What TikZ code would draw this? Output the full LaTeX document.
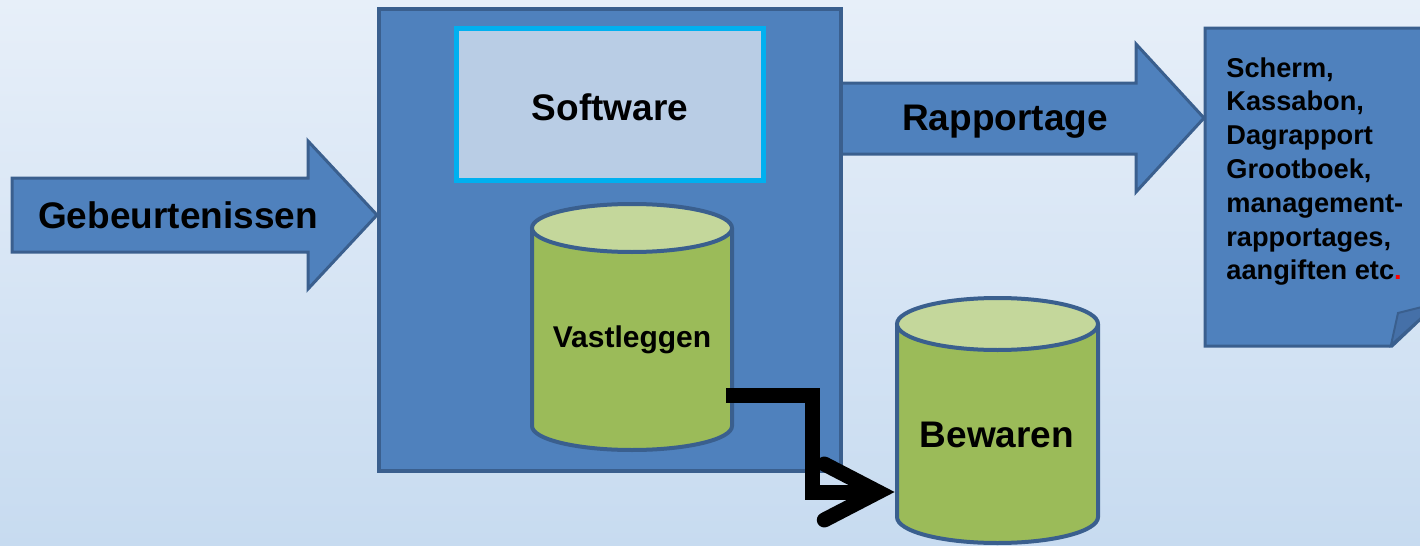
\documentclass[tikz,border=0pt]{standalone}
\usepackage{fontspec}
\setmainfont{Liberation Sans}
\usetikzlibrary{calc,arrows.meta}

\definecolor{boxblue}{HTML}{4F81BD}
\definecolor{lineblue}{HTML}{3A5F8E}
\definecolor{softfill}{HTML}{B9CDE5}
\definecolor{softline}{HTML}{00B0F0}
\definecolor{cylbody}{HTML}{9BBB59}
\definecolor{cyltop}{HTML}{C4D79B}
\definecolor{foldblue}{HTML}{4570A8}
\definecolor{bgtop}{HTML}{E7EFF9}
\definecolor{bgbottom}{HTML}{C7DBF0}

\begin{document}
\begin{tikzpicture}[x=0.5pt,y=-0.5pt,
  every node/.style={font=\bfseries\fontsize{18.5}{22}\selectfont,inner sep=0pt}]
  \tikzstyle{blueshape} = [fill=boxblue,draw=lineblue,line width=1.5pt,line join=miter]
  \tikzstyle{cyl} = [draw=lineblue,line width=2pt]
  \tikzstyle{flow} = [line width=7.5pt,
    -{Straight Barb[length=27pt,width=28pt,line cap=round]}]
  \useasboundingbox (0,0) rectangle (1420,546);
  \clip (0,0) rectangle (1420,546);
  \shade[top color=bgtop,bottom color=bgbottom] (0,0) rectangle (1420,546);
  % arrows in and out
  \draw[blueshape] (12,178) -- (308,178) -- (308,141) -- (377,215) -- (308,289)
    -- (308,252) -- (12,252) -- cycle;
  \draw[blueshape] (841,83) -- (1136,83) -- (1136,44) -- (1204,118) -- (1136,192)
    -- (1136,154) -- (841,154) -- cycle;
  % system
  \draw[blueshape,line width=2pt] (379,9) rectangle (841,471);
  \node (soft) [draw=softline,fill=softfill,line width=2.5pt,
    minimum width=153.5pt,minimum height=76pt] at (610,104.5) {};
  % document
  \draw[blueshape] (1205,28) -- (1430,28) -- (1430,310) -- (1392,346) -- (1205,346) -- cycle;
  \draw[draw=lineblue,fill=foldblue,line width=1pt] (1391,345) -- (1398,313) -- (1422,307)
    -- (1422,317) -- cycle;
  % storage
  \fill[cylbody] (532,228) -- (532,426) arc[start angle=180,end angle=0,x radius=100,y radius=24]
    -- (732,228) -- cycle;
  \draw[cyl] (532,228) -- (532,426) arc[start angle=180,end angle=0,x radius=100,y radius=24]
    -- (732,228);
  \draw[cyl,fill=cyltop] (632,228) ellipse[x radius=100,y radius=24];
  \fill[cylbody] (897,324) -- (897,517) arc[start angle=180,end angle=0,x radius=100.5,y radius=26]
    -- (1098,324) -- cycle;
  \draw[cyl] (897,324) -- (897,517) arc[start angle=180,end angle=0,x radius=100.5,y radius=26]
    -- (1098,324);
  \draw[cyl,fill=cyltop] (997.5,324) ellipse[x radius=100.5,y radius=26];
  \node (vast) [minimum width=100pt,minimum height=123.5pt] at (632,326.5) {};
  \node (bew) [minimum width=100.5pt,minimum height=122.5pt] at (997.5,420.5) {};
  % labels
  \node (gebeurt) [anchor=base] at (178,228) {Gebeurtenissen};
  \node (softtxt) [anchor=base] at (soft.center |- 0,120) {Software};
  \node (rapport) [anchor=base] at (1005,130) {Rapportage};
  \node (vasttxt) [anchor=base,font=\bfseries\fontsize{15}{18}\selectfont] at (632,347) {Vastleggen};
  \node (bewtxt) [anchor=base] at (997,447) {Bewaren};
  \node (doctxt) [anchor=north west,align=left,font=\bfseries\fontsize{13.6}{16.9}\selectfont]
    at (1226,57) {Scherm,\\Kassabon,\\Dagrapport\\Grootboek,\\management-\\rapportages,\\aangiften etc\textcolor{red}{.}};
  \draw[flow] ($(vast.east)+(-6,68.5)$) -- ++(86,0) |- ($(bew.west)+(-2,71.5)$);
\end{tikzpicture}
\end{document}
